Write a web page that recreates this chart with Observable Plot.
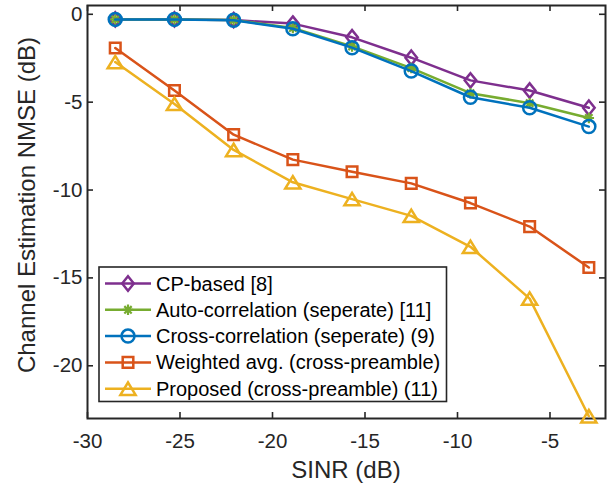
<!DOCTYPE html>
<html>
<head>
<meta charset="utf-8">
<script src="https://cdn.jsdelivr.net/npm/d3@7"></script>
<script src="https://cdn.jsdelivr.net/npm/@observablehq/plot@0.6"></script>
<style>
  html, body { margin: 0; padding: 0; background: #fff; }
  #chart { width: 607px; height: 487px; }
</style>
</head>
<body>
<div id="chart"></div>
<script>
// ---- data ----
const sinr = [-28.5, -25.3, -22.1, -18.9, -15.7, -12.5, -9.3, -6.1, -2.9];
const cpBased   = [-0.29, -0.29, -0.33, -0.53, -1.31, -2.47, -3.76, -4.34, -5.32];
const autoCorr  = [-0.29, -0.29, -0.33, -0.78, -1.83, -3.06, -4.49, -5.06, -5.90];
const crossCorr = [-0.29, -0.29, -0.34, -0.82, -1.90, -3.23, -4.72, -5.32, -6.39];
const weighted  = [-1.92, -4.34, -6.85, -8.27, -8.96, -9.62, -10.74, -12.08, -14.41];
const proposed  = [-2.72, -5.10, -7.72, -9.56, -10.52, -11.47, -13.23, -16.18, -22.87];
const seriesNames = [
  "CP-based [8]",
  "Auto-correlation (seperate) [11]",
  "Cross-correlation (seperate) (9)",
  "Weighted avg. (cross-preamble)",
  "Proposed (cross-preamble) (11)"
];
const xTicks = [-30, -25, -20, -15, -10, -5];
const yTicks = [0, -5, -10, -15, -20];
const xLabel = "SINR (dB)";
const yLabel = "Channel Estimation NMSE (dB)";

// ---- styles ----
const colors = ["#7E2F8E", "#77AC30", "#0072BD", "#D95319", "#EDB120"];
const W = 607, H = 487;
const mL = 87, mR = 2, mT = 5, mB = 69;
const innerW = W - mL - mR, innerH = H - mT - mB;
const ink = "#262626";
const font = "'Liberation Sans', Arial, Helvetica, sans-serif";

// custom marker shapes (MATLAB-like)
const diamondSym = { draw(ctx) { const w = 5.8, h = 7.2; ctx.moveTo(0, -h); ctx.lineTo(w, 0); ctx.lineTo(0, h); ctx.lineTo(-w, 0); ctx.closePath(); } };
const squareSym = { draw(ctx) { const s = 5.3; ctx.moveTo(-s, -s); ctx.lineTo(s, -s); ctx.lineTo(s, s); ctx.lineTo(-s, s); ctx.closePath(); } };
const triangleSym = { draw(ctx) { const w = 7.6, h = 6.2; ctx.moveTo(0, -h); ctx.lineTo(w, h); ctx.lineTo(-w, h); ctx.closePath(); } };
const circleSym = { draw(ctx) { const r = 6.5; ctx.moveTo(r, 0); ctx.arc(0, 0, r, 0, 2 * Math.PI); ctx.closePath(); } };
const asteriskSym = { draw(ctx) { const a = 5.2, b = a * 0.7071; ctx.moveTo(-a, 0); ctx.lineTo(a, 0); ctx.moveTo(0, -a); ctx.lineTo(0, a); ctx.moveTo(-b, -b); ctx.lineTo(b, b); ctx.moveTo(-b, b); ctx.lineTo(b, -b); } };
const symbols = [diamondSym, asteriskSym, circleSym, squareSym, triangleSym];
const allSeries = [cpBased, autoCorr, crossCorr, weighted, proposed];

const seriesMarks = allSeries.flatMap((vals, i) => {
  const pts = sinr.map((x, j) => ({ x, y: vals[j] }));
  return [
    Plot.line(pts, { x: "x", y: "y", stroke: colors[i], strokeWidth: 2.5 }),
    Plot.dot(pts, { x: "x", y: "y", symbol: symbols[i], r: 6, stroke: colors[i], strokeWidth: i === 1 ? 2.2 : 2.5, fill: "none" })
  ];
});

const chart = Plot.plot({
  width: W, height: H,
  marginLeft: mL, marginRight: mR, marginTop: mT, marginBottom: mB,
  style: { fontFamily: font, background: "#fff", color: ink, overflow: "visible" },
  x: { domain: [-30, -2], axis: null },
  y: { domain: [-23, 0.5], axis: null },
  marks: [
    Plot.frame({ stroke: ink, strokeWidth: 2 }),
    // inward ticks (bottom/top/left/right)
    Plot.ruleX(xTicks, { x: d => d, insetTop: innerH - 6, stroke: ink, strokeWidth: 1.6 }),
    Plot.ruleX(xTicks, { x: d => d, insetBottom: innerH - 6, stroke: ink, strokeWidth: 1.6 }),
    Plot.ruleY(yTicks, { y: d => d, insetRight: innerW - 6, stroke: ink, strokeWidth: 1.6 }),
    Plot.ruleY(yTicks, { y: d => d, insetLeft: innerW - 6, stroke: ink, strokeWidth: 1.6 }),
    Plot.axisX({ ticks: xTicks, tickSize: 0, tickPadding: 15, fontSize: 20.5, tickFormat: d => String(d), label: null, fill: ink }),
    Plot.axisY({ ticks: yTicks, tickSize: 0, tickPadding: 5, fontSize: 20.5, tickFormat: d => String(d), label: null, fill: ink }),
    ...seriesMarks
  ]
});

const svg = d3.select(chart);
// axis labels
svg.append("text").attr("x", mL + innerW / 2).attr("y", 470).attr("dy", "0.35em")
  .attr("text-anchor", "middle").attr("font-family", font).attr("font-size", 24).attr("fill", ink).text(xLabel);
svg.append("text").attr("transform", `translate(27,205) rotate(-90)`).attr("dy", "0.35em")
  .attr("text-anchor", "middle").attr("font-family", font).attr("font-size", 24).attr("fill", ink).text(yLabel);

// legend box (inside the plot area)
const lg = svg.append("g").attr("font-family", font).attr("text-anchor", "start");
lg.append("rect").attr("x", 99).attr("y", 267).attr("width", 347.5).attr("height", 134.5)
  .attr("fill", "#fff").attr("stroke", ink).attr("stroke-width", 1.6);
seriesNames.forEach((name, i) => {
  const yy = 283.5 + i * 26.3;
  lg.append("line").attr("x1", 105).attr("x2", 151).attr("y1", yy).attr("y2", yy)
    .attr("stroke", colors[i]).attr("stroke-width", 2.5);
  lg.append("path").attr("d", d3.symbol(symbols[i])()).attr("transform", `translate(128,${yy})`)
    .attr("fill", "none").attr("stroke", colors[i]).attr("stroke-width", i === 1 ? 2.2 : 2.5);
  lg.append("text").attr("x", 156).attr("y", yy).attr("dy", "0.35em")
    .attr("font-size", 20).attr("fill", "#000").attr("text-anchor", "start").text(name);
});

document.getElementById("chart").appendChild(chart);
</script>
</body>
</html>
